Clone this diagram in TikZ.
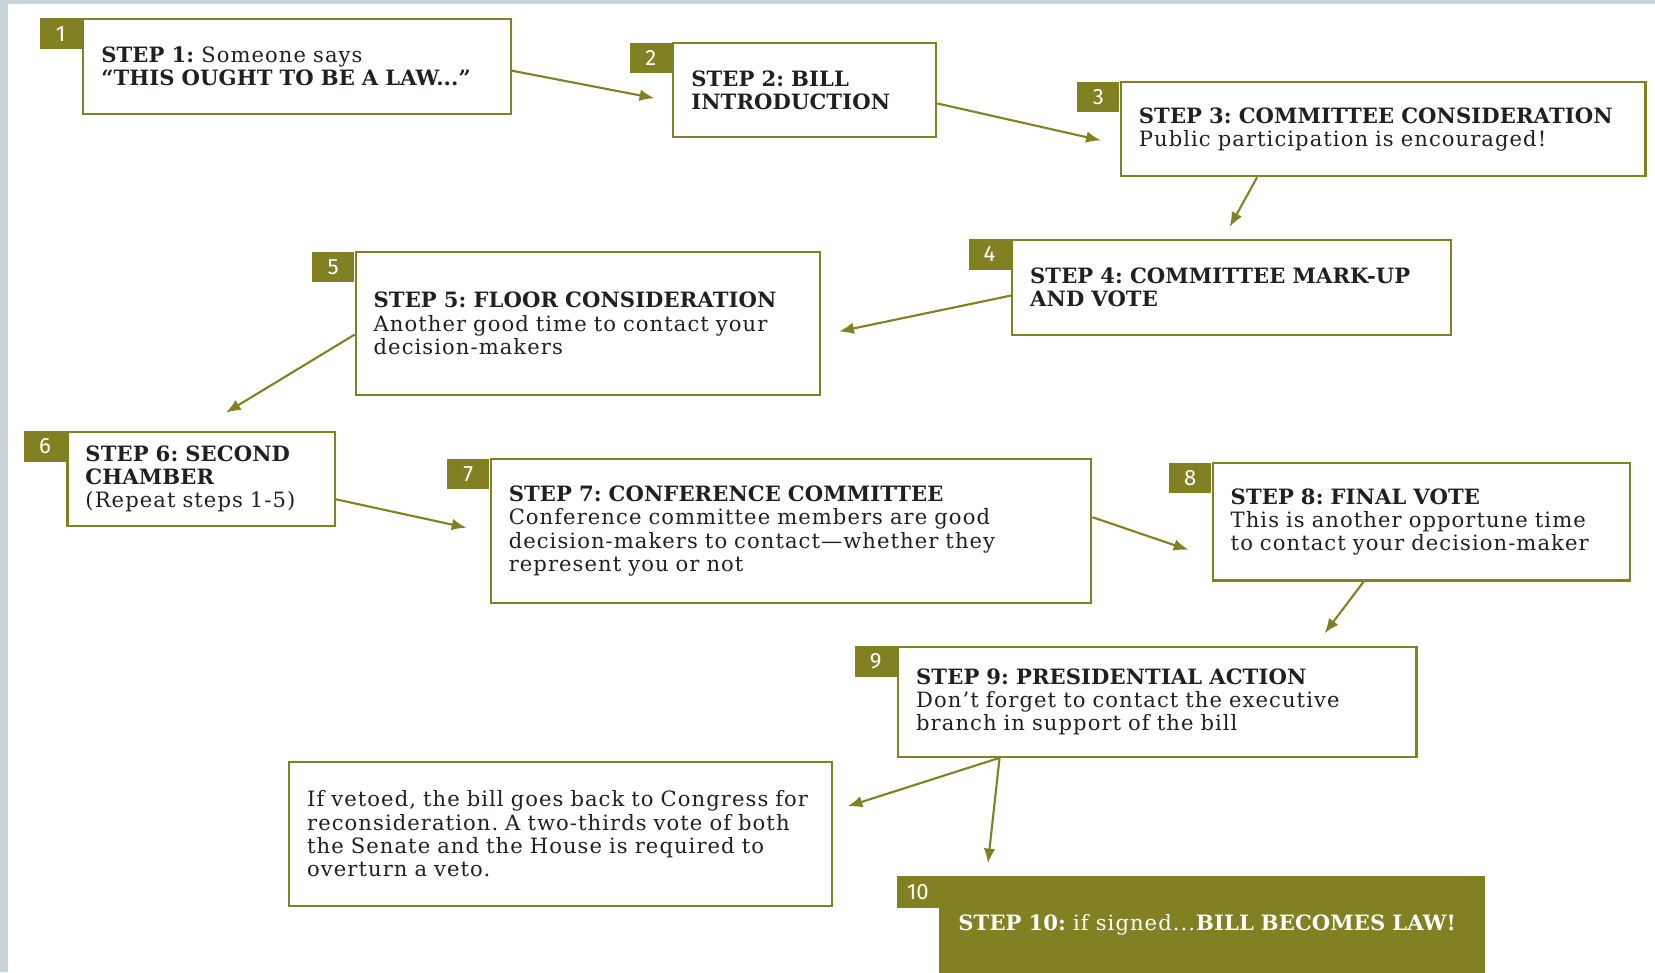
\documentclass[tikz,border=0pt]{standalone}
\usepackage{fontspec}
\setmainfont{DejaVu Serif}[LetterSpace=5, BoldFeatures={LetterSpace=0.5}]
\newfontfamily\tagfont{Fira Sans}
\usetikzlibrary{arrows.meta,calc}
\definecolor{stepolive}{RGB}{129,128,34}
\definecolor{framegray}{RGB}{201,211,219}
\definecolor{textblack}{RGB}{35,31,32}
\tikzset{
  stepbox/.style={draw=stepolive, line width=1pt, fill=white, anchor=north west, align=left,
    inner xsep=8.5pt, inner ysep=0pt, font=\fontsize{10}{11}\selectfont\frenchspacing, text=textblack},
  tagbox/.style={fill=stepolive, anchor=north east, minimum width=20pt, minimum height=14.5pt,
    inner sep=0pt, text=white, font=\tagfont\fontsize{10.5}{10.5}\selectfont},
  arr/.style={draw=stepolive, line width=1pt, -{Latex[length=7pt,width=5.5pt]}}
}
\begin{document}
\begin{tikzpicture}[x=0.5pt,y=-0.5pt]
\useasboundingbox (0,0) rectangle (1568,921);
\fill[framegray] (0,0) rectangle (1568,921);
\fill[white] (8,4) rectangle (1568,921);

\node[stepbox, text width=185.5pt, minimum height=45pt] (b1) at (78,17)
  {\textbf{STEP 1:} Someone says\\\textbf{“THIS OUGHT TO BE A LAW...”}};
\node[tagbox] (t1) at (b1.north west) {1};

\node[stepbox, text width=107.5pt, minimum height=44.5pt] (b2) at (637,40)
  {\textbf{STEP 2: BILL}\\\textbf{INTRODUCTION}};
\node[tagbox] (t2) at (b2.north west) {2};

\node[stepbox, text width=231.5pt, minimum height=44.5pt] (b3) at (1061,77)
  {\textbf{STEP 3: COMMITTEE CONSIDERATION}\\Public participation is encouraged!};
\node[tagbox] (t3) at (b3.north west) {3};

\node[stepbox, text width=191pt, minimum height=45pt] (b4) at (958,226)
  {\textbf{STEP 4: COMMITTEE MARK-UP}\\\textbf{AND VOTE}};
\node[tagbox] (t4) at (b4.north west) {4};

\node[stepbox, text width=203pt, minimum height=67.5pt] (b5) at (336,238)
  {\textbf{STEP 5: FLOOR CONSIDERATION}\\Another good time to contact your\\decision-makers};
\node[tagbox] (t5) at (b5.north west) {5};

\node[stepbox, text width=109.5pt, minimum height=44.5pt] (b6) at (63,408)
  {\textbf{STEP 6: SECOND}\\\textbf{CHAMBER}\\(Repeat steps 1-5)};
\node[tagbox] (t6) at (b6.north west) {6};

\node[stepbox, text width=267.5pt, minimum height=68pt] (b7) at (464,434)
  {\textbf{STEP 7: CONFERENCE COMMITTEE}\\Conference committee members are good\\decision-makers to contact—whether they\\represent you or not};
\node[tagbox] (t7) at (b7.north west) {7};

\node[stepbox, text width=180.5pt, minimum height=55.5pt] (b8) at (1148,438)
  {\textbf{STEP 8: FINAL VOTE}\\This is another opportune time\\to contact your decision-maker};
\node[tagbox] (t8) at (b8.north west) {8};

\node[stepbox, text width=228.5pt, minimum height=52pt] (b9) at (850,612)
  {\textbf{STEP 9: PRESIDENTIAL ACTION}\\Don’t forget to contact the executive\\branch in support of the bill};
\node[tagbox] (t9) at (b9.north west) {9};

\node[stepbox, text width=240pt, minimum height=68pt] (veto) at (273,721)
  {If vetoed, the bill goes back to Congress for\\reconsideration. A two-thirds vote of both\\the Senate and the House is required to\\overturn a veto.};

\node[stepbox, fill=stepolive, text=white, text width=240.5pt, minimum height=45.5pt] (b10) at (890,830)
  {\textbf{STEP 10:} if signed...\textbf{BILL BECOMES LAW!}};
\node[tagbox, minimum height=15pt] (t10) at (b10.north west) {10};

\coordinate (e2) at (620,93);
\coordinate (e3) at (1043,133);
\coordinate (e4) at (1165,215);
\coordinate (e5) at (795,314);
\coordinate (e6) at (214,391);
\coordinate (e7) at (442,500);
\coordinate (e8) at (1126,521);
\coordinate (e9) at (1255,600);
\coordinate (ev) at (803,764);
\coordinate (e10) at (936,818);

\draw[arr] ([yshift=-2pt]b1.east) -- (e2);
\draw[arr] ([yshift=-6.25pt]b2.east) -- (e3);
\draw[arr] ([xshift=-59.75pt]b3.south) -- (e4);
\draw[arr] ([yshift=-4pt]b4.west) -- (e5);
\draw[arr] ([yshift=-5.25pt]b5.west) -- (e6);
\draw[arr] ([yshift=-9.75pt]b6.east) -- (e7);
\draw[arr] ([yshift=6.5pt]b7.east) -- (e8);
\draw[arr] ([xshift=-27.25pt]b8.south) -- (e9);
\draw[arr] ([xshift=-74.75pt]b9.south) -- (ev);
\draw[arr] ([xshift=-74.75pt]b9.south) -- (e10);
\end{tikzpicture}
\end{document}
